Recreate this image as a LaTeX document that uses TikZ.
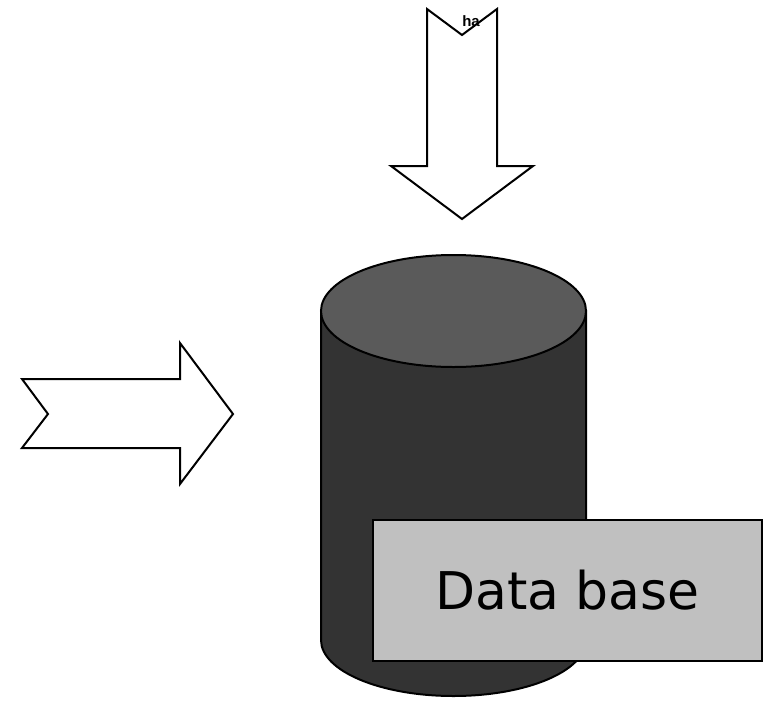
\documentclass[tikz,border=0pt]{standalone}
\usepackage{fontspec}
\setmainfont{DejaVu Sans}
\newfontfamily\smallfont{Liberation Sans}
\definecolor{topgray}{HTML}{5A5A5A}
\definecolor{bodygray}{HTML}{333333}
\definecolor{labelgray}{HTML}{C0C0C0}
\tikzset{
  outline/.style={draw=black, line width=2pt, line join=miter},
  blockarrow/.style={outline, fill=white},
  labelbox/.style={outline, fill=labelgray, minimum width=389pt, minimum height=141pt, inner sep=0pt,
    font=\fontsize{52}{60}\selectfont}
}
\begin{document}
\begin{tikzpicture}[x=1pt,y=-1pt]
\useasboundingbox (0,0) rectangle (772,702);
% cylinder body
\draw[outline, fill=bodygray] (321,311) -- (321,640)
  arc[start angle=180, end angle=360, x radius=132.5pt, y radius=56pt]
  -- (586,311) -- cycle;
% top ellipse
\draw[outline, fill=topgray] (453.5,311) ellipse [x radius=132.5pt, y radius=56pt];
% label box
\node[labelbox] (db) at (567.5,590.5) {Data base};
% top arrow
\draw[blockarrow] (427,9) -- (462,35) -- (497,9) -- (497,166) -- (533,166)
  -- (462,219) -- (391,166) -- (427,166) -- cycle;
\node[font=\smallfont\bfseries\fontsize{15}{17}\selectfont, inner sep=0pt, anchor=base] (ha) at (471,26) {ha};
% left arrow
\draw[blockarrow] (22,379) -- (180,379) -- (180,343) -- (233,414) -- (180,484)
  -- (180,448) -- (22,448) -- (48,414) -- cycle;
\end{tikzpicture}
\end{document}
